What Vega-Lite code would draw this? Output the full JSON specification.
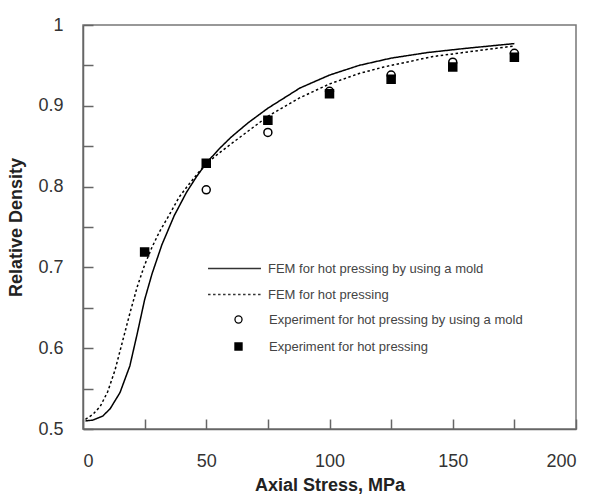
{
  "$schema": "https://vega.github.io/schema/vega-lite/v6.json",
  "width": 493,
  "height": 404,
  "autosize": "none",
  "padding": {"left": 83, "top": 25, "right": 23, "bottom": 66},
  "background": "white",
  "config": {
    "view": {"stroke": "#777", "strokeWidth": 1.5},
    "font": "Liberation Sans",
    "axis": {
      "grid": false,
      "domainColor": "#666",
      "domainWidth": 1.5,
      "tickColor": "#666",
      "tickWidth": 1.5,
      "labelFont": "Liberation Sans",
      "labelFontSize": 18,
      "labelColor": "#333",
      "titleFont": "Liberation Sans",
      "titleFontSize": 18,
      "titleFontWeight": "bold",
      "titleColor": "#222"
    },
    "legend": {
      "orient": "none",
      "title": null,
      "padding": 0,
      "labelFont": "Liberation Sans",
      "labelFontSize": 13,
      "labelColor": "#444",
      "labelLimit": 400,
      "clipHeight": 13
    }
  },
  "datasets": {
    "fem": [
      {"stress": 1, "density": 0.510, "series": "FEM for hot pressing by using a mold"},
      {"stress": 4, "density": 0.511, "series": "FEM for hot pressing by using a mold"},
      {"stress": 8, "density": 0.516, "series": "FEM for hot pressing by using a mold"},
      {"stress": 11, "density": 0.525, "series": "FEM for hot pressing by using a mold"},
      {"stress": 15, "density": 0.545, "series": "FEM for hot pressing by using a mold"},
      {"stress": 19, "density": 0.578, "series": "FEM for hot pressing by using a mold"},
      {"stress": 22, "density": 0.618, "series": "FEM for hot pressing by using a mold"},
      {"stress": 25, "density": 0.660, "series": "FEM for hot pressing by using a mold"},
      {"stress": 28, "density": 0.692, "series": "FEM for hot pressing by using a mold"},
      {"stress": 32, "density": 0.728, "series": "FEM for hot pressing by using a mold"},
      {"stress": 37, "density": 0.764, "series": "FEM for hot pressing by using a mold"},
      {"stress": 42, "density": 0.793, "series": "FEM for hot pressing by using a mold"},
      {"stress": 46, "density": 0.812, "series": "FEM for hot pressing by using a mold"},
      {"stress": 50, "density": 0.829, "series": "FEM for hot pressing by using a mold"},
      {"stress": 55, "density": 0.846, "series": "FEM for hot pressing by using a mold"},
      {"stress": 60, "density": 0.861, "series": "FEM for hot pressing by using a mold"},
      {"stress": 67, "density": 0.879, "series": "FEM for hot pressing by using a mold"},
      {"stress": 75, "density": 0.897, "series": "FEM for hot pressing by using a mold"},
      {"stress": 88, "density": 0.922, "series": "FEM for hot pressing by using a mold"},
      {"stress": 100, "density": 0.938, "series": "FEM for hot pressing by using a mold"},
      {"stress": 112, "density": 0.950, "series": "FEM for hot pressing by using a mold"},
      {"stress": 125, "density": 0.959, "series": "FEM for hot pressing by using a mold"},
      {"stress": 140, "density": 0.966, "series": "FEM for hot pressing by using a mold"},
      {"stress": 155, "density": 0.971, "series": "FEM for hot pressing by using a mold"},
      {"stress": 165, "density": 0.974, "series": "FEM for hot pressing by using a mold"},
      {"stress": 175, "density": 0.977, "series": "FEM for hot pressing by using a mold"},
      {"stress": 1, "density": 0.512, "series": "FEM for hot pressing"},
      {"stress": 4, "density": 0.518, "series": "FEM for hot pressing"},
      {"stress": 7, "density": 0.528, "series": "FEM for hot pressing"},
      {"stress": 10, "density": 0.546, "series": "FEM for hot pressing"},
      {"stress": 13, "density": 0.573, "series": "FEM for hot pressing"},
      {"stress": 16, "density": 0.608, "series": "FEM for hot pressing"},
      {"stress": 19, "density": 0.643, "series": "FEM for hot pressing"},
      {"stress": 22, "density": 0.676, "series": "FEM for hot pressing"},
      {"stress": 25, "density": 0.703, "series": "FEM for hot pressing"},
      {"stress": 28, "density": 0.725, "series": "FEM for hot pressing"},
      {"stress": 31, "density": 0.744, "series": "FEM for hot pressing"},
      {"stress": 35, "density": 0.765, "series": "FEM for hot pressing"},
      {"stress": 39, "density": 0.787, "series": "FEM for hot pressing"},
      {"stress": 43, "density": 0.803, "series": "FEM for hot pressing"},
      {"stress": 47, "density": 0.818, "series": "FEM for hot pressing"},
      {"stress": 50, "density": 0.828, "series": "FEM for hot pressing"},
      {"stress": 55, "density": 0.841, "series": "FEM for hot pressing"},
      {"stress": 61, "density": 0.855, "series": "FEM for hot pressing"},
      {"stress": 68, "density": 0.871, "series": "FEM for hot pressing"},
      {"stress": 75, "density": 0.887, "series": "FEM for hot pressing"},
      {"stress": 88, "density": 0.910, "series": "FEM for hot pressing"},
      {"stress": 100, "density": 0.927, "series": "FEM for hot pressing"},
      {"stress": 112, "density": 0.940, "series": "FEM for hot pressing"},
      {"stress": 122, "density": 0.948, "series": "FEM for hot pressing"},
      {"stress": 142, "density": 0.961, "series": "FEM for hot pressing"},
      {"stress": 162, "density": 0.969, "series": "FEM for hot pressing"},
      {"stress": 175, "density": 0.974, "series": "FEM for hot pressing"}
    ],
    "experiment": [
      {"stress": 50, "density": 0.796, "series": "Experiment for hot pressing by using a mold"},
      {"stress": 75, "density": 0.867, "series": "Experiment for hot pressing by using a mold"},
      {"stress": 100, "density": 0.918, "series": "Experiment for hot pressing by using a mold"},
      {"stress": 125, "density": 0.938, "series": "Experiment for hot pressing by using a mold"},
      {"stress": 150, "density": 0.954, "series": "Experiment for hot pressing by using a mold"},
      {"stress": 175, "density": 0.965, "series": "Experiment for hot pressing by using a mold"},
      {"stress": 25, "density": 0.719, "series": "Experiment for hot pressing"},
      {"stress": 50, "density": 0.829, "series": "Experiment for hot pressing"},
      {"stress": 75, "density": 0.882, "series": "Experiment for hot pressing"},
      {"stress": 100, "density": 0.915, "series": "Experiment for hot pressing"},
      {"stress": 125, "density": 0.933, "series": "Experiment for hot pressing"},
      {"stress": 150, "density": 0.948, "series": "Experiment for hot pressing"},
      {"stress": 175, "density": 0.960, "series": "Experiment for hot pressing"}
    ]
  },
  "encoding": {
    "x": {
      "field": "stress",
      "type": "quantitative",
      "scale": {"domain": [0, 200], "nice": false},
      "axis": {
        "title": "Axial Stress, MPa",
        "values": [0, 25, 50, 75, 100, 125, 150, 175, 200],
        "labelExpr": "datum.value % 50 === 0 ? datum.label : ''",
        "tickSize": -10,
        "labelPadding": 33,
        "labelBaseline": "top",
        "titleY": 56,
        "titleBaseline": "middle",
        "encode": {
          "ticks": {"update": {"y2": {"signal": "datum.value % 50 === 0 ? -10 : -6"}}}
        }
      }
    },
    "y": {
      "field": "density",
      "type": "quantitative",
      "scale": {"domain": [0.5, 1], "nice": false, "zero": false},
      "axis": {
        "title": "Relative Density",
        "values": [0.5, 0.55, 0.6, 0.65, 0.7, 0.75, 0.8, 0.85, 0.9, 0.95, 1],
        "labelExpr": "round(datum.value * 100) % 10 === 0 ? format(datum.value, '~g') : ''",
        "tickSize": -10,
        "labelPadding": 30,
        "titleX": -67,
        "titleY": 202,
        "titleBaseline": "middle",
        "encode": {
          "ticks": {"update": {"x2": {"signal": "round(datum.value * 100) % 10 === 0 ? 10 : 6"}}}
        }
      }
    }
  },
  "layer": [
    {
      "data": {"name": "fem"},
      "mark": {"type": "line", "color": "black", "strokeWidth": 1.5},
      "encoding": {
        "strokeDash": {
          "field": "series",
          "type": "nominal",
          "sort": null,
          "scale": {
            "domain": ["FEM for hot pressing by using a mold", "FEM for hot pressing"],
            "range": [[1, 0], [2.5, 2.5]]
          },
          "legend": {
            "legendX": 124,
            "legendY": 237,
            "symbolType": "stroke",
            "symbolSize": 2800,
            "symbolStrokeColor": "#333",
            "symbolStrokeWidth": 1.5,
            "labelOffset": 6,
            "rowPadding": 12
          }
        }
      }
    },
    {
      "data": {"name": "experiment"},
      "mark": {"type": "point", "filled": true, "stroke": "black", "strokeWidth": 1.5, "size": 64, "opacity": 1},
      "encoding": {
        "shape": {
          "field": "series",
          "type": "nominal",
          "scale": {
            "domain": ["Experiment for hot pressing by using a mold", "Experiment for hot pressing"],
            "range": ["circle", "square"]
          },
          "legend": {
            "legendX": 149,
            "legendY": 288,
            "symbolSize": 50,
            "symbolStrokeWidth": 1.3,
            "labelOffset": 24,
            "rowPadding": 13,
            "encode": {"symbols": {"update": {"stroke": {"value": "black"}, "strokeWidth": {"value": 1.3}}}}
          }
        },
        "fill": {
          "field": "series",
          "type": "nominal",
          "scale": {
            "domain": ["Experiment for hot pressing by using a mold", "Experiment for hot pressing"],
            "range": ["white", "black"]
          },
          "legend": {
            "legendX": 149,
            "legendY": 288,
            "symbolSize": 50,
            "symbolStrokeWidth": 1.3,
            "labelOffset": 24,
            "rowPadding": 13,
            "encode": {"symbols": {"update": {"stroke": {"value": "black"}, "strokeWidth": {"value": 1.3}}}}
          }
        }
      }
    }
  ]
}
